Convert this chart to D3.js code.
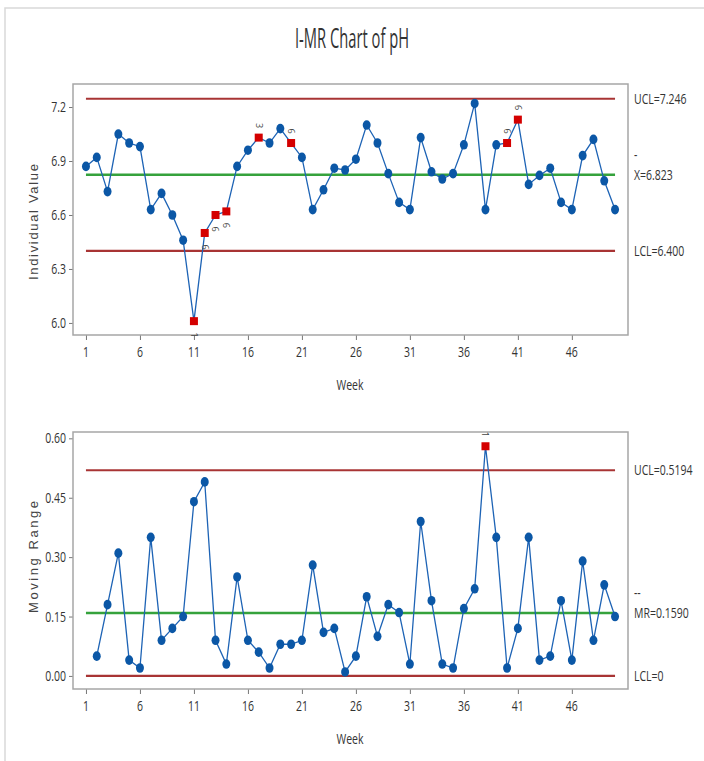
<!DOCTYPE html>
<html>
<head>
<meta charset="utf-8">
<script src="https://cdn.jsdelivr.net/npm/d3@7"></script>
<style>
  body { margin: 0; background: #fff; }
  svg { display: block; }
</style>
</head>
<body>
<div id="chart"></div>
<script>
const weeks = [1,2,3,4,5,6,7,8,9,10,11,12,13,14,15,16,17,18,19,20,21,22,23,24,25,
  26,27,28,29,30,31,32,33,34,35,36,37,38,39,40,41,42,43,44,45,46,47,48,49,50];

const phValues = [6.87, 6.92, 6.73, 7.05, 7.00, 6.98, 6.63, 6.72, 6.60, 6.46,
  6.01, 6.50, 6.60, 6.62, 6.87, 6.96, 7.03, 7.00, 7.08, 7.00,
  6.92, 6.63, 6.74, 6.86, 6.85, 6.91, 7.10, 7.00, 6.83, 6.67,
  6.63, 7.03, 6.84, 6.80, 6.83, 6.99, 7.22, 6.63, 6.99, 7.00,
  7.13, 6.77, 6.82, 6.86, 6.67, 6.63, 6.93, 7.02, 6.79, 6.63];

// moving ranges, weeks 2..50
const mrValues = [0.05, 0.18, 0.31, 0.04, 0.02, 0.35, 0.09, 0.12, 0.15,
  0.44, 0.49, 0.09, 0.03, 0.25, 0.09, 0.06, 0.02, 0.08, 0.08,
  0.09, 0.28, 0.11, 0.12, 0.01, 0.05, 0.20, 0.10, 0.18, 0.16,
  0.03, 0.39, 0.19, 0.03, 0.02, 0.17, 0.22, 0.58, 0.35, 0.02,
  0.12, 0.35, 0.04, 0.05, 0.19, 0.04, 0.29, 0.09, 0.23, 0.15];

const iFlagWeeks = [11, 12, 13, 14, 17, 20, 40, 41];
const iFlagTests = ["1", "6", "6", "6", "3", "6", "6", "6"];
const mrFlagWeeks = [38];
const mrFlagTests = ["1"];

const iLimits = [7.246, 6.823, 6.400];   // UCL, center, LCL
const mrLimits = [0.5194, 0.1590, 0];
const iLimitLabels = ["UCL=7.246", "X=6.823", "LCL=6.400"];
const mrLimitLabels = ["UCL=0.5194", "MR=0.1590", "LCL=0"];

const iTicks = [6.0, 6.3, 6.6, 6.9, 7.2];
const mrTicks = [0.00, 0.15, 0.30, 0.45, 0.60];
const weekTicks = [1, 6, 11, 16, 21, 26, 31, 36, 41, 46];

let width = 704,
    height = 761;

const svg = d3.select("#chart").append("svg")
  .attr("width", width)
  .attr("height", height);

// outer panel border
svg.append("rect")
  .attr("x", 5).attr("y", 8)
  .attr("width", 720).attr("height", 780)
  .style("fill", "none").style("stroke", "#d9d9d9").style("stroke-width", 1.5);

const narrow = "'Open Sans', sans-serif";

function condText(g, x, y, str, size, anchor, sx) {
  return g.append("text")
    .attr("transform", "translate(" + x + "," + y + ") scale(" + (sx || 0.75) + ",1)")
    .attr("text-anchor", anchor)
    .style("font-family", narrow)
    .style("font-size", size + "px")
    .style("fill", "#333")
    .text(str);
}

svg.append("text")
  .attr("x", 352).attr("y", 48)
  .attr("text-anchor", "middle")
  .attr("textLength", 114)
  .attr("lengthAdjust", "spacingAndGlyphs")
  .style("font-family", narrow)
  .style("font-size", "27px")
  .style("fill", "#333")
  .text("I-MR Chart of pH");

const x = d3.scaleLinear().domain([-0.2, 51.2]).range([73, 628]);

function panel(opts) {
  const y = d3.scaleLinear().domain(opts.domain).range([opts.bottom, opts.top]);
  const g = svg.append("g");

  // y axis
  const yAxis = g.append("g")
    .attr("transform", "translate(73,0)")
    .call(d3.axisLeft(y).tickValues(opts.yTicks).tickSize(4).tickFormat(() => ""));
  yAxis.select(".domain").remove();
  yAxis.selectAll("line").style("stroke", "#777");
  opts.yTicks.forEach((t) => {
    condText(g, 66, y(t) + 5, d3.format(opts.fmt)(t), 14, "end");
  });

  // x axis
  const xAxis = g.append("g")
    .attr("transform", "translate(0," + opts.bottom + ")")
    .call(d3.axisBottom(x).tickValues(weekTicks).tickSize(5).tickFormat(() => ""));
  xAxis.select(".domain").remove();
  xAxis.selectAll("line").style("stroke", "#777");
  weekTicks.forEach((t) => {
    condText(g, x(t), opts.bottom + 22, t, 14, "middle");
  });
  condText(g, 350, opts.bottom + 55, "Week", 14, "middle");

  // frame
  g.append("rect")
    .attr("x", 73).attr("y", opts.top)
    .attr("width", 628 - 73).attr("height", opts.bottom - opts.top)
    .style("fill", "none").style("stroke", "#a6a6a6").style("stroke-width", 1.5);

  // axis title
  g.append("text")
    .attr("transform", "translate(38," + opts.titleY + ") rotate(-90)")
    .attr("text-anchor", "middle")
    .attr("textLength", opts.titleLen)
    .attr("lengthAdjust", "spacing")
    .style("font-family", "'Liberation Sans', Arial, sans-serif")
    .style("font-size", "13px")
    .style("fill", "#444")
    .text(opts.title);

  // control limits
  opts.limits.forEach((v, i) => {
    g.append("line")
      .attr("x1", x(1)).attr("x2", x(50))
      .attr("y1", y(v)).attr("y2", y(v))
      .style("stroke", i === 1 ? "#35a23c" : "#a83434")
      .style("stroke-width", i === 1 ? 2.5 : 2.2);
    condText(g, 634, y(v) + 5, opts.limitLabels[i], 14, "start");
    if (i === 1) {
      condText(g, 634, y(v) - 15, opts.barMark, 14, "start");
    }
  });

  // series
  const pts = opts.weeks.map((w, i) => ({ w: w, v: opts.values[i] }));
  g.append("path")
    .datum(pts)
    .attr("d", d3.line().x(d => x(d.w)).y(d => y(d.v)))
    .style("fill", "none")
    .style("stroke", "#1d63b5")
    .style("stroke-width", 1.3);

  const flagged = new Set(opts.flagWeeks);
  g.selectAll("ellipse.pt")
    .data(pts.filter(d => !flagged.has(d.w)))
    .enter().append("ellipse")
    .attr("class", "pt")
    .attr("cx", d => x(d.w)).attr("cy", d => y(d.v))
    .attr("rx", 4).attr("ry", 4.8)
    .style("fill", "#0b57a6");

  g.selectAll("rect.flag")
    .data(pts.filter(d => flagged.has(d.w)))
    .enter().append("rect")
    .attr("class", "flag")
    .attr("x", d => x(d.w) - 4).attr("y", d => y(d.v) - 4)
    .attr("width", 8).attr("height", 8)
    .style("fill", "#d40000");

  opts.flagWeeks.forEach((w, i) => {
    const v = opts.values[opts.weeks.indexOf(w)];
    const above = v >= opts.limits[1];
    const ty = above ? y(v) - 12 : y(v) + 14;
    g.append("text")
      .attr("transform", "translate(" + x(w) + "," + ty + ") rotate(90)")
      .attr("text-anchor", "middle")
      .attr("dy", "0.35em")
      .style("font-family", narrow)
      .style("font-size", "9px")
      .style("fill", "#444")
      .text(opts.flagTests[i]);
  });
}

panel({
  top: 84, bottom: 335,
  domain: [5.933, 7.328],
  yTicks: iTicks, fmt: ".1f",
  title: "Individual Value", titleY: 222, titleLen: 116,
  limits: iLimits, limitLabels: iLimitLabels, barMark: "-",
  weeks: weeks, values: phValues,
  flagWeeks: iFlagWeeks, flagTests: iFlagTests
});

panel({
  top: 432, bottom: 689,
  domain: [-0.033, 0.616],
  yTicks: mrTicks, fmt: ".2f",
  title: "Moving Range", titleY: 557, titleLen: 112,
  limits: mrLimits, limitLabels: mrLimitLabels, barMark: "--",
  weeks: weeks.slice(1), values: mrValues,
  flagWeeks: mrFlagWeeks, flagTests: mrFlagTests
});
</script>
</body>
</html>
